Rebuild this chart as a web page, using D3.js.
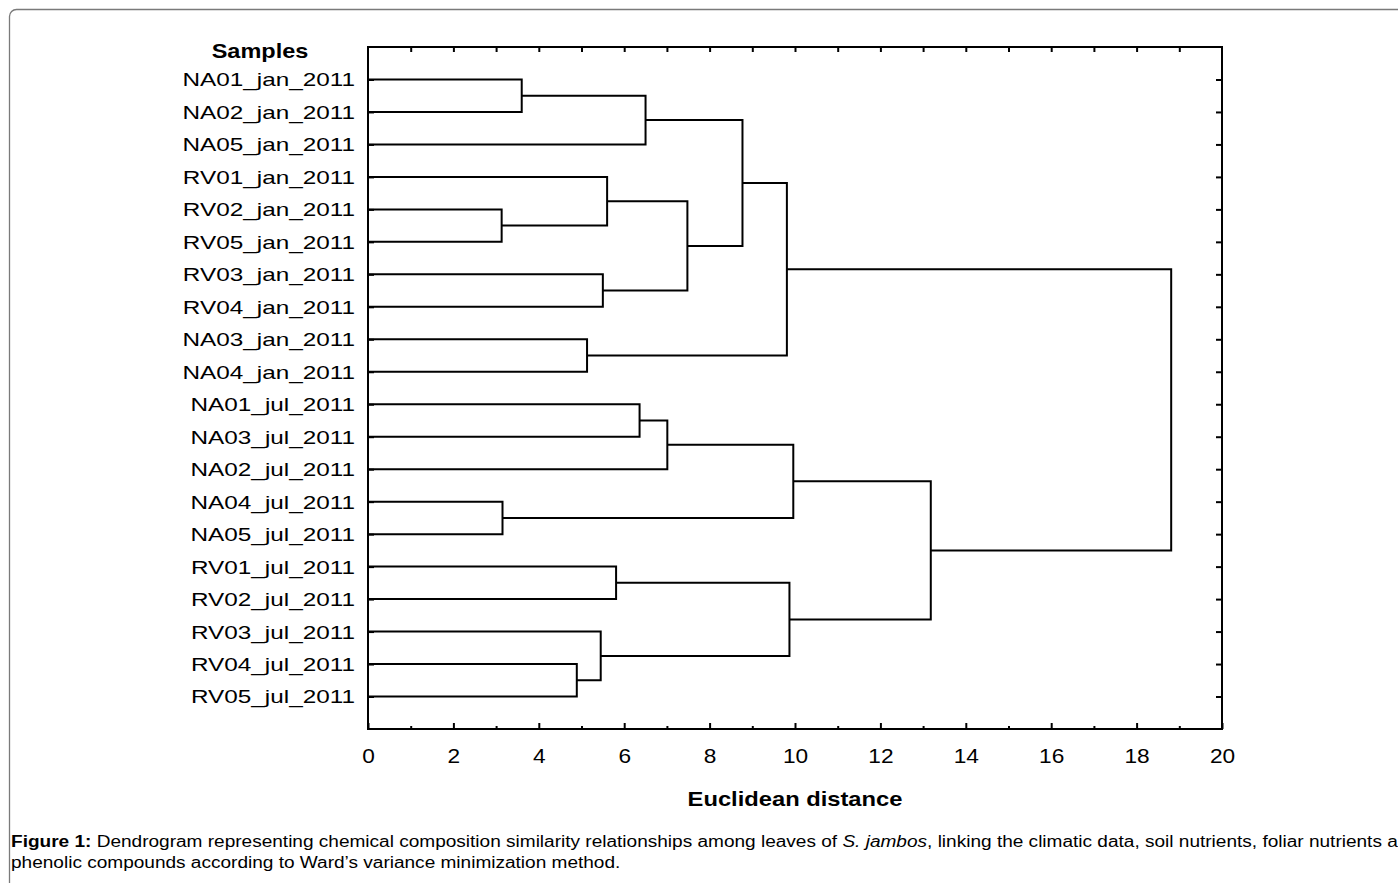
<!DOCTYPE html>
<html>
    <head>
        <meta charset="utf-8" />
        <title>Dendrogram</title>
        <script src="https://d3js.org/d3.v7.min.js"></script>
        <style>
            body { margin: 0; background-color: white; }
            text { font-family: "Liberation Sans", Arial, sans-serif; fill: black; }
        </style>
    </head>
    <body>
        <svg width="1398" height="883" id="data-viz"></svg>

        <script>
            // leaf labels, top to bottom
            var leaves = ["NA01_jan_2011", "NA02_jan_2011", "NA05_jan_2011", "RV01_jan_2011",
                "RV02_jan_2011", "RV05_jan_2011", "RV03_jan_2011", "RV04_jan_2011",
                "NA03_jan_2011", "NA04_jan_2011", "NA01_jul_2011", "NA03_jul_2011",
                "NA02_jul_2011", "NA04_jul_2011", "NA05_jul_2011", "RV01_jul_2011",
                "RV02_jul_2011", "RV03_jul_2011", "RV04_jul_2011", "RV05_jul_2011"];

            // linkage: ids < 20 are leaves, id 20+k is the k-th merge
            var mergeLeft   = [4, 13, 0, 18, 8, 17, 6, 3, 15, 10, 22, 29, 27, 30, 33, 28, 31, 36, 34];
            var mergeRight  = [5, 14, 1, 19, 9, 23, 7, 20, 16, 11, 2, 12, 26, 32, 24, 25, 21, 35, 37];
            var mergeHeight = [3.13, 3.15, 3.60, 4.89, 5.13, 5.45, 5.50, 5.60, 5.81, 6.36,
                6.50, 7.01, 7.48, 8.77, 9.81, 9.87, 9.96, 13.18, 18.81];

            var xTicks = d3.range(0, 21);

            var svg = d3.select("#data-viz");

            // page frame
            svg.append("rect")
                .attr("x", 9.5).attr("y", 9.5)
                .attr("width", 1420).attr("height", 900)
                .attr("rx", 7)
                .style("fill", "none").style("stroke", "#7a7a7a").style("stroke-width", 1.3);

            // note: "top" is reserved on window, so use other names
            var plotLeft = 368, plotRight = 1222, plotTop = 47, plotBottom = 729;

            var x = d3.scaleLinear().domain([0, 20]).range([plotLeft, plotRight]);
            var y = d3.scaleLinear().domain([0, 21]).range([plotTop, plotBottom]);

            // bottom axis, ticks inside, labels on even numbers
            var gBottom = svg.append("g")
                .attr("transform", "translate(0," + plotBottom + ")")
                .call(d3.axisBottom(x).tickValues(xTicks).tickSizeOuter(0)
                    .tickSizeInner(-6).tickPadding(13)
                    .tickFormat(function(d) { return d % 2 == 0 ? d : ""; }));
            gBottom.selectAll(".tick line")
                .attr("y2", function(d) { return d % 2 == 0 ? -6 : -3; });

            // top axis, minor ticks only
            svg.append("g")
                .attr("transform", "translate(0," + plotTop + ")")
                .call(d3.axisTop(x).tickValues(d3.range(1, 20)).tickSizeOuter(0)
                    .tickSizeInner(-5).tickFormat(""));

            // left axis with sample names
            var gLeft = svg.append("g")
                .attr("transform", "translate(" + plotLeft + ",0)")
                .call(d3.axisLeft(y).tickValues(d3.range(1, 21)).tickSizeOuter(0)
                    .tickSizeInner(-6).tickPadding(13)
                    .tickFormat(function(d) { return leaves[d - 1]; }));

            // right axis ticks
            svg.append("g")
                .attr("transform", "translate(" + plotRight + ",0)")
                .call(d3.axisRight(y).tickValues(d3.range(1, 21)).tickSizeOuter(0)
                    .tickSizeInner(-6).tickFormat(""));

            svg.selectAll(".domain").remove();
            svg.selectAll(".tick line").style("stroke", "black").style("stroke-width", 2);

            gBottom.selectAll("text")
                .style("font-family", "'Liberation Sans', Arial, sans-serif")
                .style("font-size", "21px")
                .attr("dy", null).attr("y", 0)
                .attr("transform", "translate(0,34) scale(1.08,1)");

            // sample names are drawn a bit wide in the original
            gLeft.selectAll("text")
                .style("font-family", "'Liberation Sans', Arial, sans-serif")
                .style("font-size", "19px")
                .attr("x", 0)
                .attr("dy", "0.34em")
                .attr("transform", "translate(-13,0) scale(1.28,1)");

            // plot frame
            svg.append("rect")
                .attr("x", plotLeft).attr("y", plotTop)
                .attr("width", plotRight - plotLeft).attr("height", plotBottom - plotTop)
                .style("fill", "none").style("stroke", "black").style("stroke-width", 2);

            // position of every node: leaves at height 0, merges at mid y of children
            var nodeX = [], nodeY = [];
            leaves.forEach(function(name, i) {
                nodeX[i] = 0;
                nodeY[i] = i + 1;
            });
            var links = [];
            mergeHeight.forEach(function(h, k) {
                var a = mergeLeft[k], b = mergeRight[k];
                nodeX[20 + k] = h;
                nodeY[20 + k] = (nodeY[a] + nodeY[b]) / 2;
                links.push({a: a, b: b, h: h});
            });

            svg.append("g").selectAll("path")
                .data(links)
                .join("path")
                .attr("d", function(d) {
                    return "M" + x(nodeX[d.a]) + "," + y(nodeY[d.a]) +
                        "H" + x(d.h) +
                        "V" + y(nodeY[d.b]) +
                        "H" + x(nodeX[d.b]);
                })
                .style("fill", "none")
                .style("stroke", "black")
                .style("stroke-width", 2);

            // titles
            svg.append("text")
                .attr("transform", "translate(260,58) scale(1.12,1)")
                .attr("text-anchor", "middle")
                .style("font-size", "21px").style("font-weight", "bold")
                .text("Samples");

            svg.append("text")
                .attr("transform", "translate(795,806) scale(1.13,1)")
                .attr("text-anchor", "middle")
                .style("font-size", "21px").style("font-weight", "bold")
                .text("Euclidean distance");

            // caption, a bit wider than the font is
            var capG = svg.append("g").attr("transform", "translate(11,0) scale(1.19,1)");
            var cap = capG.append("text")
                .attr("x", 0).attr("y", 847)
                .style("font-size", "16px");
            cap.append("tspan").style("font-weight", "bold").text("Figure 1:");
            cap.append("tspan").text(" Dendrogram representing chemical composition similarity relationships among leaves of ");
            cap.append("tspan").style("font-style", "italic").text("S. jambos");
            cap.append("tspan").text(", linking the climatic data, soil nutrients, foliar nutrients and");

            capG.append("text")
                .attr("x", 0).attr("y", 868)
                .style("font-size", "16px")
                .text("phenolic compounds according to Ward\u2019s variance minimization method.");
        </script>
    </body>
</html>
